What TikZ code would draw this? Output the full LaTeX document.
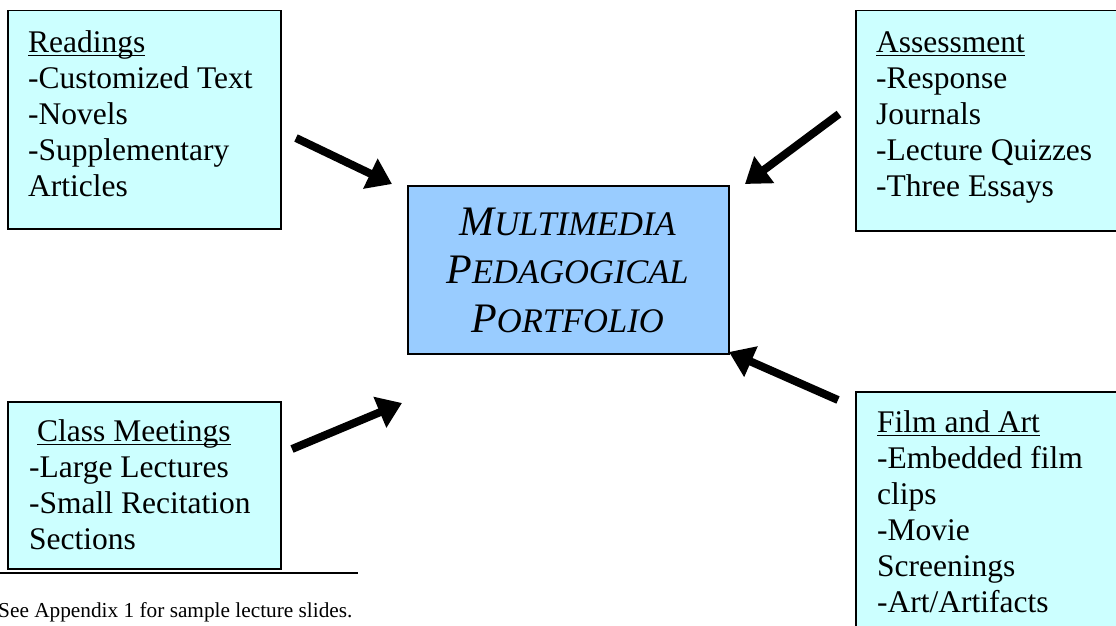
\documentclass[tikz,border=0pt]{standalone}
\usepackage{fontspec}
\setmainfont{Liberation Serif}
\usetikzlibrary{arrows.meta}
\definecolor{boxcyan}{HTML}{CCFFFF}
\definecolor{boxblue}{HTML}{99CCFF}
\newcommand\scword[2]{{\fontsize{42}{48}\selectfont #1}{\fontsize{34.5}{48}\selectfont #2}}
\newcommand\myul[1]{\setbox0\hbox{#1}\rlap{\rule[-4pt]{\wd0}{1.6pt}}\box0}
\tikzset{
  sidebox/.style={draw=black, line width=1.5pt, fill=boxcyan, inner sep=0pt, anchor=north west},
  centerbox/.style={draw=black, line width=1.5pt, fill=boxblue, inner sep=0pt, anchor=north west,
    minimum width=321pt, minimum height=168pt},
  boxtext/.style={anchor=north west, inner sep=0pt, align=left, font=\fontsize{31.5}{36}\selectfont},
  bigarrow/.style={line width=8pt, -{Triangle[length=24pt,width=32pt]}},
}
\begin{document}
\begin{tikzpicture}[x=1pt, y=-1pt]
\useasboundingbox (0,0) rectangle (1116,626);
% boxes
\node[sidebox, minimum width=273pt, minimum height=218pt] (readings) at (7,10) {};
\node[sidebox, minimum width=265pt, minimum height=220pt] (assess) at (855,10) {};
\node[sidebox, minimum width=273pt, minimum height=167pt] (classm) at (7,401) {};
\node[sidebox, minimum width=280pt, minimum height=260pt] (film) at (855,391) {};
\node[centerbox] (center) at (407,185) {};
% texts
\node[boxtext] (readingsText) at (28,52-28) {\rule{0pt}{28pt}\myul{Readings}\\-Customized Text\\-Novels\\-Supplementary\\Articles};
\node[boxtext] (assessText) at (876,52-28) {\rule{0pt}{28pt}\myul{Assessment}\\-Response\\Journals\\-Lecture Quizzes\\-Three Essays};
\node[boxtext] (classText) at (29,441-28) {\rule{0pt}{28pt}\hspace{8pt}\myul{Class Meetings}\\-Large Lectures\\-Small Recitation\\Sections};
\node[boxtext] (filmText) at (877,432-28) {\rule{0pt}{28pt}\myul{Film and Art}\\-Embedded film\\clips\\-Movie\\Screenings\\-Art/Artifacts};
\node[anchor=north, inner sep=0pt, align=center, font=\itshape\fontsize{42}{48.5}\selectfont] (centerText) at (567.5,235-32)
  {\rule{0pt}{32pt}\scword{M}{ULTIMEDIA}\\\scword{P}{EDAGOGICAL}\\\scword{P}{ORTFOLIO}};
% footnote
\coordinate (ruleL) at (0,573);
\coordinate (ruleR) at (358,573);
\draw[line width=1.5pt] (ruleL) -- (ruleR);
\node[anchor=base west, inner sep=0pt, font=\fontsize{21.3}{25}\selectfont] (footnote) at (-2,617) {See Appendix 1 for sample lecture slides.};
% arrows
\coordinate (a1s) at (296,138); \coordinate (a1e) at (392,184);
\coordinate (a2s) at (839,114); \coordinate (a2e) at (745,184);
\coordinate (a3s) at (292,449); \coordinate (a3e) at (402,403);
\coordinate (a4s) at (838,400); \coordinate (a4e) at (729,352);
\draw[bigarrow] (a1s) -- (a1e);
\draw[bigarrow] (a2s) -- (a2e);
\draw[bigarrow] (a3s) -- (a3e);
\draw[bigarrow] (a4s) -- (a4e);
\end{tikzpicture}
\end{document}
